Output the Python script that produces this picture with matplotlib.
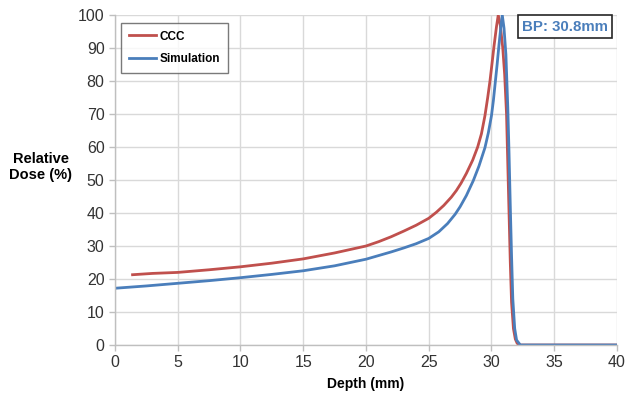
import matplotlib
matplotlib.use("Agg")
import matplotlib.pyplot as plt

plt.rcParams['font.family'] = ['Liberation Sans', 'DejaVu Sans']

# Data (depth in mm, relative dose in %)
ccc_depth = [1.4, 3, 5, 7.5, 10, 12.5, 15, 17.5, 20, 21, 22, 23, 24, 25, 25.6,
             26.2, 26.8, 27.2, 27.57, 28, 28.5, 28.9, 29.2, 29.48, 29.7, 29.88,
             30.05, 30.2, 30.4, 30.54, 30.7, 30.9, 31.05, 31.2, 31.3, 31.4,
             31.5, 31.6, 31.75, 31.9, 32.05, 32.3, 40]
ccc_dose = [21.3, 21.7, 22.0, 22.8, 23.7, 24.8, 26.1, 27.9, 30.0, 31.3, 32.8,
            34.5, 36.3, 38.4, 40.2, 42.3, 44.8, 46.8, 49.0, 52.0, 56.0, 60,
            64, 69.5, 75, 80, 85.5, 90.5, 96.5, 100, 97, 90, 82, 70, 55, 40,
            25, 13, 5, 1.8, 0.5, 0, 0]

sim_depth = [0, 2.5, 5, 7.5, 10, 12.5, 15, 17.5, 20, 21, 22, 23, 24, 25, 25.8,
             26.5, 27.1, 27.5, 28, 28.55, 29, 29.48, 29.75, 30.0, 30.15, 30.3,
             30.45, 30.6, 30.75, 30.86, 31.0, 31.15, 31.3, 31.4, 31.5, 31.6,
             31.7, 31.85, 32.0, 32.3, 40]
sim_dose = [17.2, 17.9, 18.7, 19.5, 20.4, 21.4, 22.5, 24.0, 26.0, 27.1, 28.2,
            29.4, 30.7, 32.3, 34.3, 36.8, 39.6, 41.9, 45.3, 49.8, 54.2, 59.8,
            64.3, 69.5, 74, 79.5, 85, 91, 96.5, 100, 96, 88, 72, 58, 42, 27,
            14, 5, 1.5, 0, 0]

x_ticks = list(range(0, 41, 5))
y_ticks = list(range(0, 101, 10))

red = '#C0504D'
blue = '#4A7EBB'
grid_c = '#D9D9D9'

fig = plt.figure(figsize=(6.27, 3.93), dpi=100)
ax = fig.add_axes([0.1834, 0.1221, 0.8006, 0.8397])

ax.plot(ccc_depth, ccc_dose, color=red, lw=2.0, label='CCC')
ax.plot(sim_depth, sim_dose, color=blue, lw=2.0, label='Simulation')

ax.set_xlim(0, 40)
ax.set_ylim(0, 100)
ax.set_xticks(x_ticks)
ax.set_yticks(y_ticks)
ax.grid(True, color=grid_c, lw=1.0)
ax.set_axisbelow(True)

for s in ['top', 'right']:
    ax.spines[s].set_visible(False)
for s in ['left', 'bottom']:
    ax.spines[s].set_color('#BFBFBF')
    ax.spines[s].set_linewidth(1.0)
ax.tick_params(axis='both', colors='#BFBFBF', labelcolor='#333333',
               labelsize=11.5, length=4, width=1.0)

ax.set_xlabel('Depth (mm)', fontsize=10, fontweight='bold', labelpad=5)
fig.text(0.065, 0.575, 'Relative\nDose (%)', fontsize=10.5, fontweight='bold',
         ha='center', va='center', linespacing=1.25)

leg = ax.legend(loc='upper left', bbox_to_anchor=(0.012, 0.976), fancybox=False,
                frameon=True, fontsize=8.5, handlelength=2.3, borderpad=0.65,
                labelspacing=0.9, handletextpad=0.3, borderaxespad=0)
leg.get_frame().set_edgecolor('#595959')
leg.get_frame().set_linewidth(1.0)
for t in leg.get_texts():
    t.set_fontweight('bold')

ax.text(0.982, 0.985, 'BP: 30.8mm', transform=ax.transAxes, ha='right', va='top',
        fontsize=10.8, fontweight='bold', color=blue,
        bbox=dict(boxstyle='square,pad=0.3', fc='white', ec='#262626', lw=1.2))

fig.savefig('out.png', dpi=100)
